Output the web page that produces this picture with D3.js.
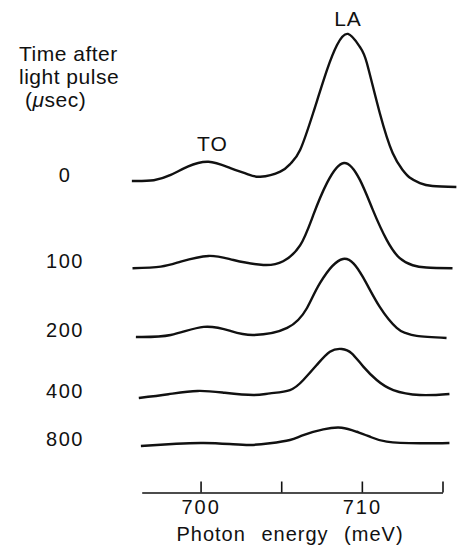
<!DOCTYPE html>
<html>
<head>
<meta charset="utf-8">
<script src="https://cdn.jsdelivr.net/npm/d3@7"></script>
<style>
body { margin: 0; background: #fff; }
text { font-family: "Liberation Sans", Arial, sans-serif; fill: #111; }
</style>
</head>
<body>
<div id="chart"></div>
<script>
// time after pulse (usec) and vertical offset of each trace
var times = ["0", "100", "200", "400", "800"];
var offsets = [176, 118.7, 72.7, 32, 0];

// spectra, [photon energy meV, intensity arb.]
var spec0 = [[695.74, 0.7], [697.1, 1.2], [698.15, 4.7], [699.2, 10.2], [700.49, 13.5], [701.85, 9.3],
  [702.9, 5.3], [703.7, 3.5], [704.94, 6.9], [705.6, 12.5], [706.17, 21.3], [706.98, 46], [707.84, 74.7],
  [708.46, 91.3], [709.14, 98.7], [709.88, 90], [710.31, 79.3], [711.11, 46], [711.91, 19.3],
  [712.53, 8], [712.96, 3], [713.6, -0.7], [714.38, -2.7], [715.86, -3.3]];
var spec100 = [[695.78, -0.2], [697.53, 0.9], [698.77, 4.2], [700.49, 8], [702.04, 5.3], [703.89, 2],
  [705.12, 4.5], [706.17, 15], [706.98, 35], [707.84, 56.7], [708.89, 70], [709.88, 58.7],
  [710.68, 38.7], [711.54, 18.7], [712.35, 6.5], [713.15, 1.8], [714, 0.3], [715.62, -0.2]];
var spec200 = [[695.99, 0], [698.15, 1.3], [700.19, 6.7], [701.85, 4], [703.27, 1.3], [705.37, 6],
  [706.6, 19.3], [707.41, 36], [708.83, 52], [710.06, 40], [711.11, 20], [712.16, 6],
  [712.7, 2.7], [713.4, 0.7], [715.25, -0.7]];
var spec400 = [[696.17, 0], [698, 2.5], [699.81, 4.7], [701.5, 3.5], [703.27, 2], [704.3, 3.1],
  [705.54, 5.3], [706.37, 12], [707.2, 22], [708.02, 30.9], [708.75, 32.7], [709.37, 29.8],
  [710.09, 20.9], [710.92, 12], [711.95, 5.3], [713.6, 2], [715.43, 2.7]];
var spec800 = [[696.3, 0], [698.5, 1.5], [700.19, 2], [701.8, 1.3], [703.09, 0.7], [704.3, 1.8],
  [705.54, 4], [706.37, 7.3], [707.61, 11.1], [708.75, 12.2], [709.68, 9.5], [710.5, 6.2],
  [711.54, 2.9], [713.6, 1.8], [715.43, 2]];
var spectra = [spec0, spec100, spec200, spec400, spec800];

var tickVals = [700, 705, 710, 715];
var tickLabels = ["700", "", "710", ""];

var width = 457, height = 552;

var svg = d3.select("#chart").append("svg")
  .attr("width", width)
  .attr("height", height);

var x = d3.scaleLinear().domain([696.35, 715]).range([141.7, 442.5]);
var y = d3.scaleLinear().domain([0, 100]).range([446, 296]);

var line = d3.line()
  .x(function (d) { return x(d[0]); })
  .y(function (d) { return d[1]; })
  .curve(d3.curveNatural);

var traces = svg.append("g").attr("class", "traces");

spectra.forEach(function (s, i) {
  var pts = s.map(function (d) { return [d[0], y(d[1] + offsets[i])]; });
  traces.append("path")
    .attr("d", line(pts))
    .attr("fill", "none")
    .attr("stroke", "#111")
    .attr("stroke-width", 2.4)
    .attr("stroke-linejoin", "round");

  svg.append("text")
    .attr("x", 65)
    .attr("y", y(offsets[i]))
    .attr("text-anchor", "middle")
    .style("font-size", "20px")
    .style("letter-spacing", "1.5px")
    .text(times[i]);
});

// peak labels, from the 0 usec trace
var toPeak = d3.greatest(spec0.filter(function (d) { return d[0] < 703; }), function (d) { return d[1]; });
var laPeak = d3.greatest(spec0, function (d) { return d[1]; });

svg.append("text")
  .attr("x", x(toPeak[0]) + 4)
  .attr("y", y(toPeak[1] + offsets[0]) - 11)
  .attr("text-anchor", "middle")
  .style("font-size", "21px")
  .style("letter-spacing", "1px")
  .text("TO");

svg.append("text")
  .attr("x", x(laPeak[0]))
  .attr("y", y(laPeak[1] + offsets[0]) - 8)
  .attr("text-anchor", "middle")
  .style("font-size", "21px")
  .style("letter-spacing", "1px")
  .text("LA");

// axis
var axis = d3.axisBottom(x)
  .tickValues(tickVals)
  .tickSizeInner(-11)
  .tickSizeOuter(0)
  .tickPadding(7)
  .tickFormat(function (d, i) { return tickLabels[i]; });

var ax = svg.append("g")
  .attr("transform", "translate(0,492.5)")
  .call(axis);

ax.select(".domain").attr("stroke", "#111").attr("stroke-width", 1.6);
ax.selectAll(".tick line").attr("stroke", "#111").attr("stroke-width", 1.6);
ax.selectAll(".tick text")
  .attr("fill", "#111")
  .style("font-family", "'Liberation Sans', Arial, sans-serif")
  .style("font-size", "20px")
  .style("letter-spacing", "2px");

svg.append("text")
  .attr("x", 290)
  .attr("y", 541)
  .attr("text-anchor", "middle")
  .style("font-size", "20px")
  .style("letter-spacing", "1px")
  .style("word-spacing", "9px")
  .text("Photon energy (meV)");

// legend title
var title = svg.append("text")
  .style("font-size", "21px")
  .style("letter-spacing", "0.5px");
title.append("tspan").attr("x", 19).attr("y", 61).text("Time after");
title.append("tspan").attr("x", 19).attr("y", 84).text("light pulse");
title.append("tspan").attr("x", 25).attr("y", 106.5).text("(");
title.append("tspan").style("font-style", "italic").text("\u03bc");
title.append("tspan").text("sec)");
</script>
</body>
</html>
